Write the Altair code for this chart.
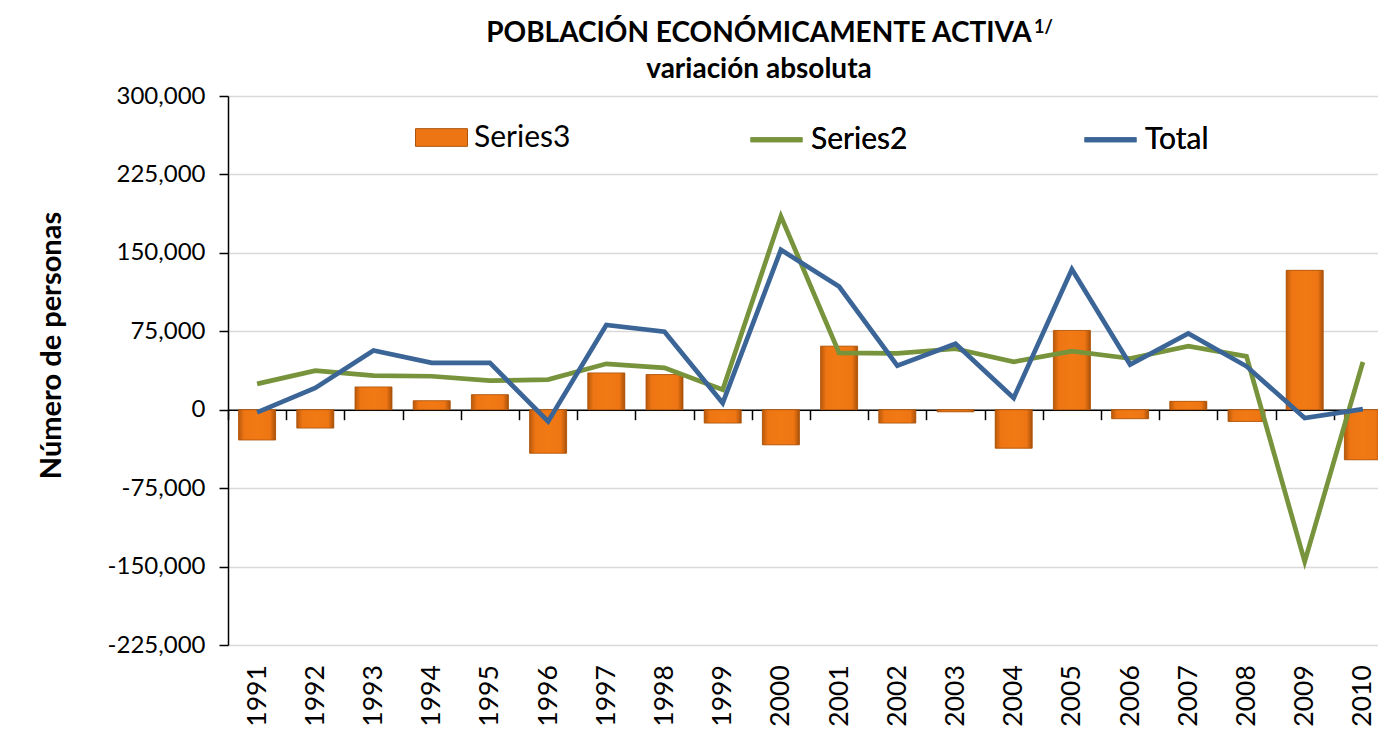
import altair as alt
import pandas as pd

# ---------------- data ----------------
years = [str(y) for y in range(1991, 2011)]
series3 = [-29000, -17600, 21800, 8600, 14400, -41600, 35200, 33600, -12800, -33600,
           60800, -12800, -2000, -36800, 75800, -8600, 8000, -11200, 133300, -47900]
series2 = [24700, 37400, 32600, 32000, 27800, 28800, 43900, 40000, 19200, 185000,
           54400, 53800, 58300, 45800, 56000, 49000, 60800, 51000, -145200, 45600]
total = [-2600, 20800, 56600, 44800, 44800, -11200, 81000, 74600, 6400, 152900,
         117800, 42200, 63000, 11200, 134400, 43200, 73000, 41500, -8000, 600]
y_ticks = [-225000, -150000, -75000, 0, 75000, 150000, 225000, 300000]
bar_name = ["Series3"]
bar_color = ["#EE7513"]
line_names = ["Series2", "Total"]
line_colors = ["#77933C", "#3B6597"]
title_lines = ["POBLACIÓN ECONÓMICAMENTE ACTIVA", "variación absoluta"]
title_note = "1/"
y_title = "Número de personas"

bars_df = pd.DataFrame({"year": years, "value": series3, "series": bar_name[0]})
s2_df = pd.DataFrame({"year": years, "value": series2, "series": line_names[0]})
tot_df = pd.DataFrame({"year": years, "value": total, "series": line_names[1]})
note_df = pd.DataFrame({"t": [title_note]})

# ---------------- layout ----------------
FONT = "Lato"
W, H = 1150, 549
STEP = 58.2
ZERO_OFFSET = -(H * 225000 / 525000)

x_scale = alt.Scale(domain=years, range=[0, STEP * len(years)], paddingInner=0, paddingOuter=0)
y_scale = alt.Scale(domain=[y_ticks[0], y_ticks[-1]], nice=False, zero=False)

x_axis = alt.Axis(
    title=None, orient="bottom", offset=ZERO_OFFSET,
    domain=True, domainColor="black", domainWidth=1.5,
    ticks=True, tickBand="extent", tickColor="black", tickWidth=1.5, tickSize=10,
    labelAngle=270, labelAlign="right", labelBaseline="middle",
    labelFont=FONT, labelFontSize=26.5, labelColor="black", labelPadding=245,
    grid=False,
)
y_axis = alt.Axis(
    values=y_ticks,
    labelExpr="replace(format(datum.value, ','), '\u2212', '-')",
    title=y_title, titleFont=FONT, titleFontSize=29, titleFontWeight="bold",
    titleColor="black", titleAngle=270, titleX=-162, titleY=249,
    domainColor="black", domainWidth=1.5,
    tickColor="black", tickWidth=1.5, tickSize=9,
    labelPadding=14, labelFont=FONT, labelFontSize=24, labelColor="black",
    gridColor="#D9D9D9", gridWidth=1.3,
)

bar_fill = {
    "gradient": "linear", "x1": 0, "x2": 1, "y1": 0, "y2": 0,
    "stops": [
        {"offset": 0, "color": "#B9590B"},
        {"offset": 0.15, "color": "#EE7513"},
        {"offset": 0.5, "color": "#F27A14"},
        {"offset": 0.85, "color": "#EE7513"},
        {"offset": 1, "color": "#A9510A"},
    ],
}

bar_legend = alt.Legend(
    title=None, orient="none", legendX=187, legendY=15, direction="horizontal",
    padding=0, labelFont=FONT, labelFontSize=30, labelFontWeight="normal",
    labelColor="black", labelOffset=6,
    symbolType="M-1,-0.34H1V0.34H-1Z", symbolSize=2704,
    symbolStrokeColor="#A9530B", symbolStrokeWidth=1, symbolOpacity=1,
)
line_legend = alt.Legend(
    title=None, orient="none", legendX=520, legendY=15, direction="horizontal",
    columnPadding=166, padding=0,
    labelFont=FONT, labelFontSize=30, labelFontWeight="normal",
    labelColor="black", labelOffset=6,
    symbolType="stroke", symbolSize=2704, symbolStrokeWidth=5, symbolOpacity=1,
)

bars_base = alt.Chart(bars_df).mark_bar(size=37, strokeWidth=0).encode(
    x=alt.X("year:N", scale=x_scale, axis=x_axis),
    y=alt.Y("value:Q", scale=y_scale, axis=y_axis),
    fill=alt.Fill("series:N", scale=alt.Scale(domain=bar_name, range=bar_color),
                  legend=bar_legend),
)
bars_top = alt.Chart(bars_df).mark_bar(
    size=37, fill=bar_fill, stroke="#A9530B", strokeWidth=0.8
).encode(x="year:N", y="value:Q")

color = alt.Color(
    "series:N",
    scale=alt.Scale(domain=line_names, range=line_colors),
    legend=line_legend,
)
line_s2 = alt.Chart(s2_df).mark_line(strokeWidth=4.7).encode(
    x="year:N", y="value:Q", color=color
)
line_tot = alt.Chart(tot_df).mark_line(strokeWidth=4.7).encode(
    x="year:N", y="value:Q", color=color
)

note = alt.Chart(note_df).mark_text(
    font=FONT, fontSize=18, fontWeight="bold", align="left",
    baseline="top", color="black"
).encode(text="t:N", x=alt.value(806), y=alt.value(-77))

chart = alt.layer(bars_base, bars_top, line_s2, line_tot, note).properties(
    width=W, height=H,
    title=alt.TitleParams(
        text=title_lines, font=FONT, fontSize=28, fontWeight="bold",
        color="black", anchor="middle", dx=-44, dy=65, offset=0, lineHeight=36,
    ),
    autosize=alt.AutoSizeParams(type="none"),
    padding={"left": 220, "top": 88, "right": 0, "bottom": 85},
).resolve_scale(color="independent", fill="independent").configure_view(
    strokeWidth=0
).configure(background="white")

chart.save("out.html", embed_options={"renderer": "svg", "actions": False})
